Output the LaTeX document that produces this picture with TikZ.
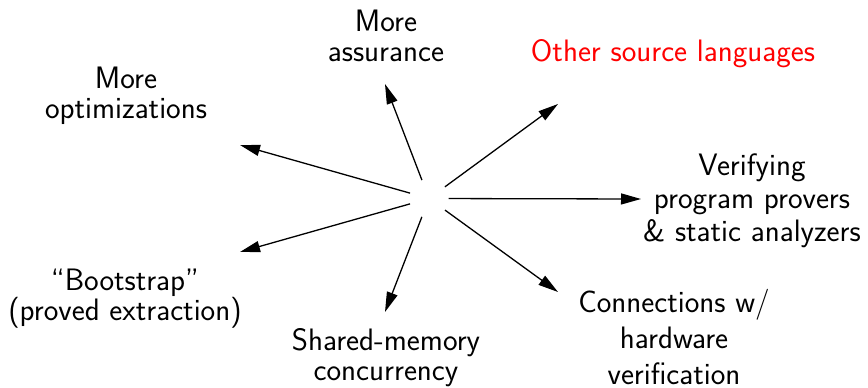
\documentclass[tikz,border=0pt]{standalone}
\usepackage{fontspec}
\usetikzlibrary{arrows.meta}
\begin{document}
\begin{tikzpicture}[x=1pt,y=-1pt,
  topic/.style={font=\sffamily\fontsize{31}{30}\selectfont, align=center, inner sep=0pt},
  ray/.style={line width=1.3pt, -{Triangle[length=20pt,width=11pt]}}]
\useasboundingbox (0,0) rectangle (868,388);

% central hub (invisible) from which all directions radiate
\node[circle, minimum size=39pt, inner sep=0pt] (hub) at (429,198.5) {};

% topics
\node[topic] (assur) at (386,36) {More\\assurance};
\node[topic, text=red] (lang) at (673,54) {Other source languages};
\node[topic] (optim) at (126,96) {More\\optimizations};
\node[topic] (verif) at (752,201) {Verifying\\[3pt]program provers\\[3pt]\& static analyzers};
\node[topic] (boot) at (125,299) {“Bootstrap”\\(proved extraction)};
\node[topic] (conc) at (386,358) {Shared-memory\\concurrency};
\node[topic] (hw) at (674,337) {Connections w/\\[6pt]hardware\\[6pt]verification};

% arrow tips
\coordinate (tAssur) at (385,84);
\coordinate (tLang)  at (558,104);
\coordinate (tVerif) at (641,199);
\coordinate (tHw)    at (558,292);
\coordinate (tConc)  at (385,312);
\coordinate (tBoot)  at (240,252);
\coordinate (tOptim) at (240,145);

\foreach \t in {tAssur,tLang,tVerif,tHw,tConc,tBoot,tOptim}
  \draw[ray] (hub) -- (\t);
\end{tikzpicture}
\end{document}
